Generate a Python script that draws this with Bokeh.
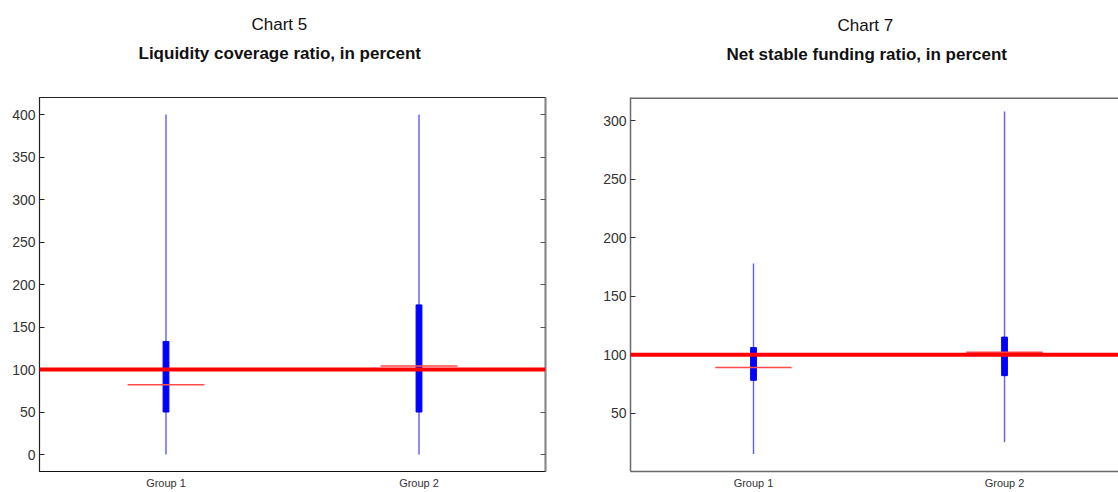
from bokeh.plotting import figure
from bokeh.layouts import row
from bokeh.models import (Range1d, FixedTicker, LinearAxis, Span, Title,
                          ColumnDataSource, CustomJSTickFormatter)
from bokeh.embed import file_html
from bokeh.resources import INLINE

# ---------------- data ----------------
groups = ["Group 1", "Group 2"]

lcr_low = [0, 0]
lcr_q1 = [50, 50]
lcr_median = [82, 104]
lcr_q3 = [133, 176]
lcr_high = [400, 400]
lcr_ticks = [0, 50, 100, 150, 200, 250, 300, 350, 400]

nsfr_low = [15, 25]
nsfr_q1 = [78, 82]
nsfr_median = [89, 102]
nsfr_q3 = [106, 115]
nsfr_high = [178, 308]
nsfr_ticks = [50, 100, 150, 200, 250, 300]

threshold = 100

FONT = "Liberation Sans"
HEIGHT = 492


def make_chart(chart_no, title, low, q1, med, q3, high, ticks, y_range, x_range,
               width, border_left, border_right, border_top, border_bottom,
               label_standoff, offsets, standoffs, left_style):
    p = figure(width=width, height=HEIGHT,
               x_range=Range1d(*x_range), y_range=Range1d(*y_range),
               output_backend="svg", toolbar_location=None,
               min_border_left=border_left, min_border_right=border_right,
               min_border_top=border_top, min_border_bottom=border_bottom)
    p.xgrid.visible = False
    p.ygrid.visible = False
    p.background_fill_color = "white"
    p.border_fill_color = "white"

    pos = [i + 1 for i in range(len(groups))]
    half = 0.152
    src = ColumnDataSource(dict(x=pos, low=low, q1=q1, med=med, q3=q3, high=high,
                                x0=[x - half for x in pos], x1=[x + half for x in pos]))

    p.segment(x0="x", y0="low", x1="x", y1="high", source=src,
              line_color="#5c5cff", line_width=1.4)
    p.vbar(x="x", width=0.023, bottom="q1", top="q3", source=src,
           fill_color="#0000ff", line_color="#0000ff", line_width=1)
    p.segment(x0="x0", y0="med", x1="x1", y1="med", source=src,
              line_color="#ff4a4a", line_width=1.5)
    p.add_layout(Span(location=threshold, dimension="width",
                      line_color="#ff0000", line_width=4))

    # x axis
    xa = p.xaxis[0]
    xa.ticker = FixedTicker(ticks=pos)
    xa.major_label_overrides = {pos[i]: groups[i] for i in range(len(groups))}
    xa.major_tick_in = 0
    xa.major_tick_out = 0
    xa.minor_tick_line_color = None
    xa.major_tick_line_color = None
    xa.major_label_standoff = label_standoff
    xa.major_label_text_font = FONT
    xa.major_label_text_font_size = "11px"
    xa.major_label_text_color = "#333333"

    # y axis
    ya = p.yaxis[0]
    ya.ticker = FixedTicker(ticks=ticks)
    ya.major_tick_in = 5
    ya.major_tick_out = 0
    ya.minor_tick_line_color = None
    ya.major_label_standoff = 4
    ya.major_label_text_font = FONT
    ya.major_label_text_font_size = "14px"
    ya.major_label_text_color = "#333333"

    if left_style:
        p.outline_line_color = "#222222"
        p.outline_line_width = 1.2
        xa.axis_line_color = "#111111"
        ya.axis_line_color = "#222222"
        ya.major_tick_line_color = "#222222"
        ra = LinearAxis(ticker=FixedTicker(ticks=ticks),
                        formatter=CustomJSTickFormatter(code="return ''"),
                        major_tick_in=5, major_tick_out=0,
                        minor_tick_line_color=None,
                        axis_line_color="#888888", axis_line_width=2,
                        major_tick_line_color="#555555")
        p.add_layout(ra, "right")
    else:
        # frame cut off on the right: only left, bottom and top borders
        p.outline_line_color = None
        xa.axis_line_color = "#6a6a6a"
        xa.axis_line_width = 1.5
        ya.axis_line_color = "#6a6a6a"
        ya.axis_line_width = 1.5
        ya.major_tick_line_color = "#333333"
        p.add_layout(Span(location=y_range[1], dimension="width",
                          line_color="#6a6a6a", line_width=3))

    # titles: spacer (closest to frame), bold subtitle, chart number
    p.title.visible = False
    p.add_layout(Title(text=" ", text_font_size="2px", standoff=standoffs[0]), "above")
    p.add_layout(Title(text=title, align="left", offset=offsets[0],
                       standoff=standoffs[1], vertical_align="bottom",
                       text_font=FONT, text_font_style="bold",
                       text_font_size="17px", text_color="#111111"), "above")
    p.add_layout(Title(text=chart_no, align="left", offset=offsets[1],
                       standoff=standoffs[2], vertical_align="bottom",
                       text_font=FONT, text_font_style="normal",
                       text_font_size="17px", text_color="#111111"), "above")
    return p


p1 = make_chart("Chart 5", "Liquidity coverage ratio, in percent",
                lcr_low, lcr_q1, lcr_median, lcr_q3, lcr_high, lcr_ticks,
                (-20, 420), (0.5, 2.5),
                580, 39, 35, 97, 18, 5,
                (99, 212), (27, 8, 7), True)
p2 = make_chart("Chart 7", "Net stable funding ratio, in percent",
                nsfr_low, nsfr_q1, nsfr_median, nsfr_q3, nsfr_high, nsfr_ticks,
                (0, 320), (0.51, 2.454),
                538, 50, 0, 96, 21, 5,
                (96, 207), (26, 8, 7), False)

layout = row(p1, p2)
open("out.html", "w").write(file_html(layout, INLINE))
